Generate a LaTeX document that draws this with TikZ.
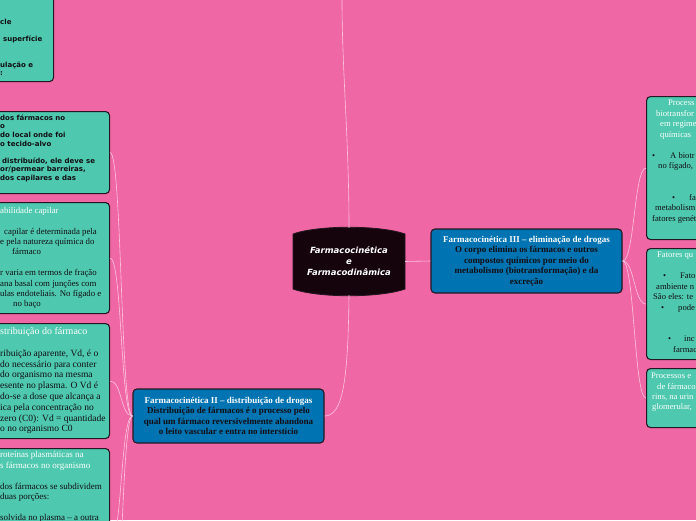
\documentclass[tikz,border=0pt]{standalone}
\usepackage{fontspec}
\setmainfont{Liberation Serif}
\newfontfamily\verd{DejaVu Sans}
\definecolor{mapbg}{RGB}{240,103,165}
\definecolor{leafc}{RGB}{78,200,174}
\definecolor{topc}{RGB}{0,115,178}
\definecolor{corec}{RGB}{22,4,12}
\definecolor{edgec}{RGB}{38,24,34}
\definecolor{linkc}{RGB}{252,196,222}
\definecolor{inkc}{RGB}{18,14,20}
\newcommand{\LX}{109}
\newcommand{\RX}{646}
\newcommand{\gap}{\mbox{}}
\newcommand{\bul}[1]{\makebox[#1][l]{•}}

\begin{document}
\begin{tikzpicture}[x=1pt, y=-1pt,
    leaf/.style={rectangle, rounded corners=4pt, fill=leafc, draw=edgec, line width=1.1pt, anchor=north west, inner sep=0pt},
    topic/.style={rectangle, rounded corners=4pt, fill=topc, draw=edgec, line width=1.1pt, inner sep=0pt,
      align=center, text=inkc, font=\bfseries\fontsize{9}{10.5}\selectfont},
    link/.style={draw=linkc, line width=0.6pt},
    sanstxt/.style={anchor=north west, inner sep=0pt, align=left, text=inkc, font=\verd\bfseries\fontsize{7}{8.6}\selectfont},
    sertxt/.style={anchor=north west, inner sep=0pt, align=left, text=inkc},
  ]
  \useasboundingbox (0,0) rectangle (696,520);
  \fill[mapbg] (0,0) rectangle (696,520);

  %% ================= the centre =================
  \fill[corec, draw=edgec, line width=0.8pt] (293,234) .. controls (318,225) and (380,225) .. (405,234)
    -- (405,289) .. controls (380,298) and (318,298) .. (293,289) -- cycle;
  \node[minimum width=112pt, minimum height=67pt, inner sep=0pt, text=white, align=center,
        font=\verd\bfseries\itshape\fontsize{8.5}{11}\selectfont] (core) at (349,261.5)
    {Farmacocinética\\e\\Farmacodinâmica};

  %% ================= the two topics =================
  \node[topic, minimum width=191pt, minimum height=54pt] (dist) at (228.5,416)
    {\textcolor{white}{Farmacocinética II – distribuição de drogas}\\
     Distribuição de fármacos é o processo pelo\\
     qual um fármaco reversivelmente abandona\\
     o leito vascular e entra no interstício};
  \node[topic, minimum width=191pt, minimum height=64pt] (elim) at (526.5,261)
    {\textcolor{white}{Farmacocinética III – eliminação de drogas}\\
     O corpo elimina os fármacos e outros\\
     compostos químicos por meio do\\
     metabolismo (biotransformação) e da\\
     excreção};

  %% ================= leaves on the left, cut by the page =================
  \node[leaf, minimum width=73pt,  minimum height=91pt]  (adm)  at (-20,-10) {};
  \node[leaf, minimum width=129pt, minimum height=82pt]  (ways) at (-20,111) {};
  \node[leaf, minimum width=129pt, minimum height=111pt] (perm) at (-20,202) {};
  \node[leaf, minimum width=129pt, minimum height=115pt] (vol)  at (-20,323) {};
  \node[leaf, minimum width=129pt, minimum height=190pt] (prot) at (-20,448) {};
  \coordinate (nextleaf) at (\LX,700);

  \node[sanstxt] (admtxt) at (0,18.5)
    {cle\\ \gap\\ \hspace*{3pt}superfície\\ \gap\\ \gap\\ ulação e\\ :};
  \node[sanstxt] (waystxt) at (0,114.5)
    {dos fármacos no\\ o\\ do local onde foi\\ o tecido-alvo\\ \gap\\
     \hspace*{2pt}distribuído, ele deve se\\ or/permear barreiras,\\ dos capilares e das};
  \node[sertxt, font=\fontsize{8.8}{10.4}\selectfont] (permtxt) at (0,207)
    {\textcolor{white}{abilidade capilar}\\ \gap\\
     \hspace*{4pt}capilar é determinada pela\\ e pela natureza química do\\ \hspace*{12pt}fármaco\\ \gap\\
     r varia em termos de fração\\ ana basal com junções com\\ ulas endoteliais. No fígado e\\ \hspace*{13pt}no baço};
  \node[sertxt, font=\fontsize{9.5}{10.8}\selectfont] (voltxt) at (0,327.5)
    {\textcolor{white}{\fontsize{10}{10.8}\selectfont stribuição do fármaco}\\ \gap\\
     ribuição aparente, Vd, é o\\ do necessário para conter\\ do organismo na mesma\\
     esente no plasma. O Vd é\\ do-se a dose que alcança a\\ ica pela concentração no\\
     zero (C0): Vd = quantidade\\ o no organismo C0};
  \node[sertxt, font=\fontsize{9}{10.5}\selectfont] (prottxt) at (0,451.5)
    {\textcolor{white}{roteínas plasmáticas na}\\ \textcolor{white}{s fármacos no organismo}\\ \gap\\
     dos fármacos se subdividem\\ duas porções:\\ \gap\\ solvida no plasma – a outra};

  %% ================= leaves on the right, cut by the page =================
  \node[leaf, minimum width=120pt, minimum height=143pt] (biot)  at (\RX,96)  {};
  \node[leaf, minimum width=120pt, minimum height=111pt] (fact)  at (\RX,248) {};
  \node[leaf, minimum width=120pt, minimum height=59pt]  (renal) at (\RX,368) {};

  \node[sertxt, font=\fontsize{8.6}{10.5}\selectfont] (biottxt) at (652,100)
    {\textcolor{white}{\hspace*{16pt}Process}\\ \textcolor{white}{\hspace*{4pt}biotransfor}\\
     \textcolor{white}{\hspace*{8pt}em regime}\\ \textcolor{white}{\hspace*{8pt}químicas}\\ \gap\\
     \bul{18pt}A biotr\\ \hspace*{6pt}no fígado,\\ \gap\\ \gap\\
     \hspace*{20pt}\bul{17pt}fa\\ \hspace*{3pt}metabolism\\ fatores genét};
  \node[sertxt, font=\fontsize{8.6}{10.5}\selectfont] (facttxt) at (653,252)
    {\textcolor{white}{\hspace*{4pt}Fatores qu}\\ \gap\\
     \hspace*{10pt}\bul{17pt}Fato\\ \hspace*{3pt}ambiente n\\ São eles: te\\
     \hspace*{8pt}\bul{17pt}pode\\ \gap\\ \gap\\
     \hspace*{15pt}\bul{16pt}inc\\ \hspace*{20pt}farmac};
  \node[sertxt, text=white, font=\fontsize{8.6}{10.3}\selectfont] (renaltxt) at (651,373)
    {Processos e\\ \hspace*{6pt}de fármaco\\ \hspace*{1pt}rins, na urin\\ \hspace*{1pt}glomerular,};

  %% ================= connectors =================
  \coordinate (topend) at (342,0);
  \draw[link] (core.north) .. controls (349,140) and (342,70) .. (topend);
  \draw[link] (core.south) .. controls (348,380) and (343,416) .. (dist.east);
  \draw[link] (core.east) -- (elim.west);
  \foreach \t in {ways,perm,vol,prot} {
    \draw[link] (dist.west) .. controls +(-12,0) and +(12,0) .. (\t.east);
  }
  \draw[link] (dist.west) .. controls +(-12,0) and +(12,0) .. (nextleaf);
  \foreach \t in {biot,fact,renal} {
    \draw[link] (elim.east) .. controls +(12,0) and +(-12,0) .. (\t.west);
  }

\end{tikzpicture}
\end{document}
